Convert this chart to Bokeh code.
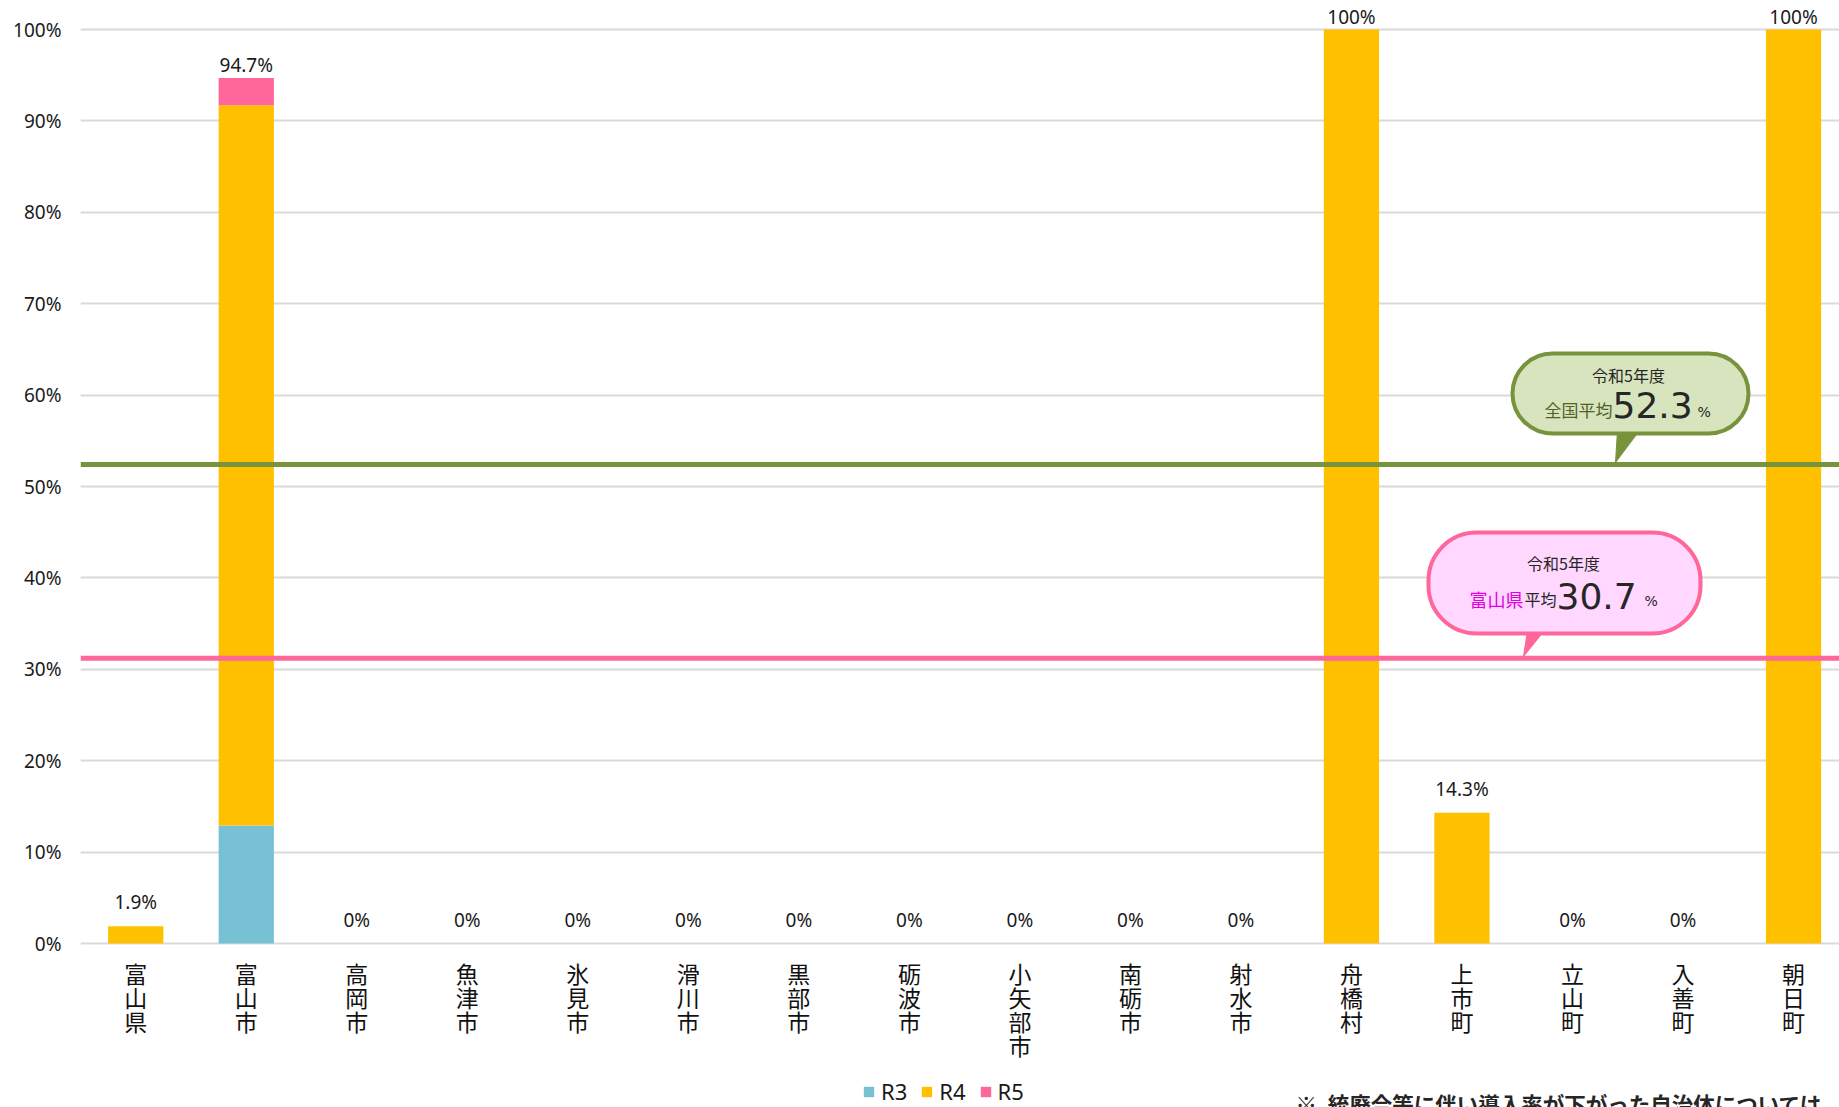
from bokeh.plotting import figure
from bokeh.models import (Range1d, FixedTicker, ColumnDataSource, Span, BoxAnnotation,
                          Label, Legend, LegendItem, PrintfTickFormatter)
from bokeh.core.properties import value
from bokeh.embed import file_html
from bokeh.resources import INLINE

# ---------------- data ----------------
categories = ["富山県", "富山市", "高岡市", "魚津市", "氷見市", "滑川市", "黒部市", "砺波市",
              "小矢部市", "南砺市", "射水市", "舟橋村", "上市町", "立山町", "入善町", "朝日町"]
r3 = [0, 12.9, 0, 0, 0, 0, 0, 0, 0, 0, 0, 0, 0, 0, 0, 0]
r4 = [1.9, 78.8, 0, 0, 0, 0, 0, 0, 0, 0, 0, 100, 14.3, 0, 0, 100]
r5 = [0, 3.0, 0, 0, 0, 0, 0, 0, 0, 0, 0, 0, 0, 0, 0, 0]
totals = [1.9, 94.7, 0, 0, 0, 0, 0, 0, 0, 0, 0, 100, 14.3, 0, 0, 100]
series = ["R3", "R4", "R5"]
y_ticks = [0, 10, 20, 30, 40, 50, 60, 70, 80, 90, 100]

national_avg_text = "52.3"
national_avg_line = 52.4
pref_avg_text = "30.7"
pref_avg_line = 31.2
note_text = "※\u2002統廃合等に伴い導入率が下がった自治体については、"

colors = ["#78C1D5", "#FFC000", "#FF6699"]
GREEN = "#77933C"
PINK = "#FF6699"

# ---------------- figure ----------------
W, H = 1839, 1107
BL = 80
ZERO_PX, PX_PER = 943, 9.14          # page y of the 0% line, pixels per percent
Y0 = -(H - ZERO_PX) / PX_PER
Y1 = ZERO_PX / PX_PER
p = figure(width=W, height=H, output_backend="svg", toolbar_location=None,
           x_range=Range1d(-0.5, 15.416), y_range=Range1d(Y0, Y1),
           x_axis_location=None,
           min_border_left=BL, min_border_right=0, min_border_top=0, min_border_bottom=0)
p.outline_line_color = None
p.background_fill_color = "white"
p.border_fill_color = "white"

# page pixel -> data helpers (for annotation placement only)
PXX = (W - BL) / 15.916


def dx(px):
    return (px - BL) / PXX - 0.5


def dy(py):
    return (ZERO_PX - py) / PX_PER


src = ColumnDataSource(dict(
    x=list(range(len(categories))), R3=r3, R4=r4, R5=r5, total=totals,
    label=[("%d%%" % t) if float(t).is_integer() else ("%.1f%%" % t) for t in totals],
    yoff=[-13 if t >= 90 else -24 for t in totals],
    cat=["\n".join(c) for c in categories],
    base=[0] * len(categories),
))

rs = p.vbar_stack(series, x="x", width=0.5, fill_color=colors, line_color=None, source=src)

# value labels above the bars
p.text(x="x", y="total", text="label", source=src, y_offset="yoff",
       text_align="center", text_baseline="alphabetic",
       text_font=value("Noto Sans"), text_font_size="19px", text_color="#1a1a1a")

# category labels (vertical, one character per line) under the 0% line
p.text(x="x", y="base", text="cat", source=src, y_offset=12,
       text_align="center", text_baseline="top", text_line_height=0.71,
       text_font=value("Noto Sans CJK JP"), text_font_size="23px", text_color="#111111")

# grid / y axis
p.xgrid.visible = False
p.ygrid.grid_line_color = "#D9D9D9"
p.ygrid.grid_line_width = 2
p.ygrid.ticker = FixedTicker(ticks=y_ticks)

p.yaxis.ticker = FixedTicker(ticks=y_ticks)
p.yaxis.formatter = PrintfTickFormatter(format="%d%%")
p.yaxis.axis_line_color = None
p.yaxis.major_tick_line_color = None
p.yaxis.minor_tick_line_color = None
p.yaxis.major_label_standoff = 13
p.yaxis.major_label_text_font = "Noto Sans"
p.yaxis.major_label_text_font_size = "19px"
p.yaxis.major_label_text_color = "#1a1a1a"

# average lines
p.add_layout(Span(location=national_avg_line, dimension="width", line_color=GREEN, line_width=5))
p.add_layout(Span(location=pref_avg_line, dimension="width", line_color=PINK, line_width=5))

# callouts: pointers
p.patch([dx(1617), dx(1639), dx(1615)], [dy(430), dy(430), dy(462)], color=GREEN)
p.patch([dx(1527), dx(1544), dx(1523)], [dy(630), dy(630), dy(656)], color=PINK)

# callouts: bodies
p.add_layout(BoxAnnotation(left=dx(1512), right=dx(1748), top=dy(353), bottom=dy(433),
                           fill_color="#D7E4BD", fill_alpha=1, line_color=GREEN, line_width=4,
                           line_alpha=1, border_radius=40))
p.add_layout(BoxAnnotation(left=dx(1428), right=dx(1700), top=dy(532), bottom=dy(633),
                           fill_color="#FFD7FF", fill_alpha=1, line_color=PINK, line_width=4,
                           line_alpha=1, border_radius=48))


def lab(px, py, text, size, color="#262626", font="Noto Sans CJK JP", align="left", style="normal"):
    p.add_layout(Label(x=dx(px), y=dy(py), text=text, text_font=font, text_font_size=size,
                       text_color=color, text_align=align, text_baseline="alphabetic",
                       text_font_style=style))


# green callout text
lab(1628, 374, "令和5年度", "16px", align="center")
lab(1544, 409, "全国平均", "17px", color="#4F6228")
lab(1612, 404, national_avg_text, "36px", font="DejaVu Sans")
lab(1697, 411, "%", "14px", font="DejaVu Sans")

# pink callout text
lab(1563, 562, "令和5年度", "16px", align="center")
lab(1469, 598, "富山県", "18px", color="#E000E0")
lab(1524, 598, "平均", "16px")
lab(1556, 595, pref_avg_text, "36px", font="DejaVu Sans")
lab(1644, 600, "%", "14px", font="DejaVu Sans")

# note (cut off at page bottom as in the original)
lab(1295, 1103, note_text, "21.5px", style="bold")

# legend at the bottom
legend = Legend(items=[LegendItem(label=s, renderers=[r]) for s, r in zip(series, rs)],
                orientation="horizontal", location=(782, 1),
                glyph_width=13, glyph_height=13, label_standoff=6, spacing=13,
                padding=0, margin=0, border_line_color=None, background_fill_alpha=0,
                label_text_font="Noto Sans", label_text_font_size="22px",
                label_text_color="#1a1a1a", label_height=20)
p.add_layout(legend, "center")

open("out.html", "w").write(file_html(p, INLINE))
